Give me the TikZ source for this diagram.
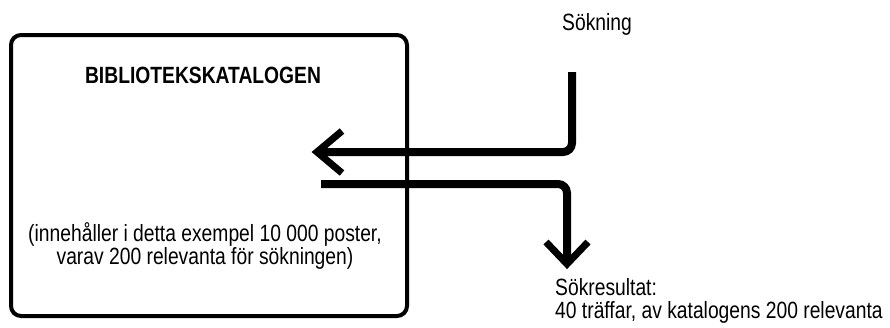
\documentclass[tikz,border=0pt]{standalone}
\usepackage{fontspec}
\setmainfont[FakeStretch=0.82]{Liberation Sans}
\begin{document}
\begin{tikzpicture}[x=1pt,y=-1pt,
  txt/.style={inner sep=0pt,font=\fontsize{23.5}{23}\selectfont},
  ttl/.style={inner sep=0pt,font=\fontsize{23.5}{23}\selectfont\bfseries},
  frame/.style={draw,line width=4pt,rounded corners=10pt,minimum width=396pt,minimum height=281pt,inner sep=0pt},
  flow/.style={line width=8pt,rounded corners=9pt},
  barb/.style={line width=7pt,line join=miter,line cap=butt}]
\useasboundingbox (0,0) rectangle (890,327);
\node[frame] (cat) at (209,175.5) {};
\node[ttl] (title) at (203,75) {BIBLIOTEKSKATALOGEN};
\node[txt,align=center] (desc) at (205,246) {(innehåller i detta exempel 10 000 poster,\\varav 200 relevanta för sökningen)};
\node[txt,anchor=west] (sok) at (562,24) {Sökning};
\node[txt,anchor=north west,align=left] (res) at (555,278) {Sökresultat:\\40 träffar, av katalogens 200 relevanta};
% search arrow
\coordinate (s0) at (572,72);
\coordinate (s1) at (572,152);
\coordinate (stip) at (317,152);
\draw[flow] (s0) -- (s1) -- (stip);
\draw[barb] (342,131) -- (stip) -- (342,173);
% result arrow
\coordinate (r0) at (321,184);
\coordinate (r1) at (567,184);
\coordinate (rtip) at (567,264);
\draw[flow] (r0) -- (r1) -- (rtip);
\draw[barb] (546,242) -- (rtip) -- (588,242);
\end{tikzpicture}
\end{document}
